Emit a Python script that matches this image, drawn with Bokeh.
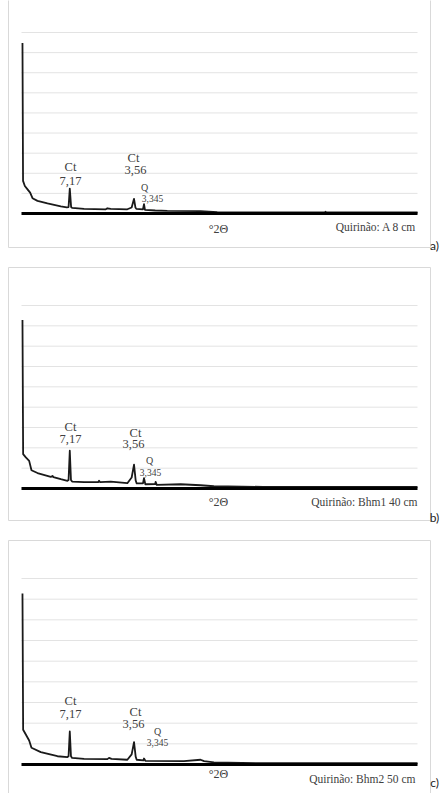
from bokeh.plotting import figure
from bokeh.layouts import column
from bokeh.embed import file_html
from bokeh.resources import INLINE
from bokeh.core.properties import value
from bokeh.models import Range1d

# ---------------- data (°2θ, relative intensity in gridline units) ----------------
X_MIN, X_MAX = 3, 80
GRID_LEVELS = [1, 2, 3, 4, 5, 6, 7, 8, 9]

theta_a = [3.19, 3.30, 3.65, 4.17, 4.68, 5.14, 6.11, 8.05, 10.64, 11.80, 12.15, 12.39,
           12.65, 12.84, 15.17, 19.40, 19.70, 20.35, 23.58, 24.42, 24.88, 25.15, 25.33,
           26.62, 26.82, 27.01, 29.0, 31.35, 37.82, 41.06, 50.0, 62.0, 62.1, 62.3, 80.0]
int_a = [8.48, 1.62, 1.37, 1.20, 1.04, 0.76, 0.63, 0.50, 0.35, 0.30, 0.32, 1.24,
         0.32, 0.28, 0.23, 0.21, 0.26, 0.23, 0.21, 0.30, 0.73, 0.30, 0.23,
         0.21, 0.46, 0.18, 0.15, 0.13, 0.12, 0.07, 0.05, 0.05, 0.09, 0.05, 0.05]

theta_b = [3.19, 3.32, 3.84, 4.49, 4.94, 6.11, 8.70, 9.02, 9.20, 10.64, 11.93, 12.15,
           12.39, 12.62, 12.84, 15.17, 17.90, 18.08, 18.30, 20.35, 23.58, 24.42, 24.88,
           25.20, 25.40, 26.62, 26.82, 27.08, 29.0, 29.08, 29.30, 33.94, 37.82, 40.41,
           50.0, 80.0]
int_b = [8.29, 1.69, 1.53, 1.36, 0.90, 0.76, 0.57, 0.62, 0.56, 0.46, 0.38, 0.42,
         1.86, 0.42, 0.34, 0.31, 0.31, 0.38, 0.31, 0.34, 0.26, 0.54, 1.17,
         0.40, 0.25, 0.25, 0.51, 0.21, 0.22, 0.33, 0.18, 0.21, 0.16, 0.11,
         0.08, 0.08]

theta_c = [3.19, 3.32, 3.84, 4.49, 4.94, 6.75, 9.99, 11.93, 12.15, 12.39, 12.62, 12.84,
           15.17, 19.70, 20.02, 20.50, 23.58, 24.42, 24.88, 25.20, 25.40, 26.69, 26.82,
           27.08, 34.59, 37.82, 38.50, 40.41, 50.0, 80.0]
int_c = [8.27, 1.68, 1.45, 1.16, 0.81, 0.60, 0.40, 0.36, 0.40, 1.60, 0.40, 0.32,
         0.27, 0.26, 0.32, 0.27, 0.23, 0.49, 1.08, 0.38, 0.23, 0.20, 0.29,
         0.18, 0.16, 0.23, 0.16, 0.10, 0.06, 0.06]

minerals = ["Ct", "Ct", "Q"]
d_spacings = ["7,17", "3,56", "3,345"]
x_title = "°2Θ"
samples = ["Quirinão: A 8 cm", "Quirinão: Bhm1 40 cm", "Quirinão: Bhm2 50 cm"]
letters = ["a)", "b)", "c)"]

# ---------------- layout (page pixels) ----------------
PLOT_LEFT, PLOT_RIGHT = 21, 417
PAGE_LEFT, PAGE_RIGHT = 0, 440
BORDER_LEFT, BORDER_RIGHT = 8, 430
LETTER_X = 434

PANELS = [
    dict(theta=theta_a, inten=int_a, fig_top=0, H=256, grid_top=32, axis=213,
         border_top=-6, border_bottom=247, letter_y=245, name_x=416, name_y=226, title_y=228,
         min_pos=[(70, 166), (133, 157), (144, 187)], d_pos=[(70, 180), (135, 169), (152, 198)]),
    dict(theta=theta_b, inten=int_b, fig_top=256, H=274, grid_top=305, axis=488,
         border_top=267, border_bottom=520, letter_y=517, name_x=417, name_y=501, title_y=501,
         min_pos=[(70, 426), (135, 432), (149, 460)], d_pos=[(70, 438), (133, 443), (150, 472)]),
    dict(theta=theta_c, inten=int_c, fig_top=530, H=263, grid_top=578, axis=764,
         border_top=540, border_bottom=797, letter_y=782, name_x=415, name_y=778, title_y=773,
         min_pos=[(70, 700), (135, 711), (157, 731)], d_pos=[(70, 713), (133, 723), (157, 742)]),
]

SERIF = value("Liberation Serif")
TEXT_COLOR = "#404040"


def make_panel(i, cfg):
    sx = (PLOT_RIGHT - PLOT_LEFT) / (X_MAX - X_MIN)
    sp = (cfg["axis"] - cfg["grid_top"]) / GRID_LEVELS[-1]

    def xd(px):
        return X_MIN + (px - PLOT_LEFT) / sx

    def yd(py):
        return (cfg["axis"] - py) / sp

    top, H = cfg["fig_top"], cfg["H"]
    p = figure(width=PAGE_RIGHT - PAGE_LEFT, height=H, output_backend="svg",
               toolbar_location=None, x_axis_location=None, y_axis_location=None,
               x_range=Range1d(xd(PAGE_LEFT), xd(PAGE_RIGHT)),
               y_range=Range1d(yd(top + H), yd(top)),
               min_border=0, min_border_left=0, min_border_right=0,
               min_border_top=0, min_border_bottom=0)
    p.outline_line_color = None
    p.xgrid.visible = False
    p.ygrid.visible = False
    p.background_fill_color = "white"
    p.border_fill_color = "white"

    # chart-area border
    p.quad(left=[xd(BORDER_LEFT)], right=[xd(BORDER_RIGHT)],
           top=[yd(cfg["border_top"])], bottom=[yd(cfg["border_bottom"])],
           fill_color=None, line_color="#d9d9d9", line_width=1)

    # horizontal gridlines
    p.segment(x0=[X_MIN] * len(GRID_LEVELS), x1=[X_MAX] * len(GRID_LEVELS),
              y0=GRID_LEVELS, y1=GRID_LEVELS, line_color="#e3e3e3", line_width=1)

    # diffractogram
    p.line(cfg["theta"], cfg["inten"], line_color="#1a1a1a", line_width=1.8,
           line_join="round")

    # x axis line
    p.line([X_MIN, X_MAX], [0, 0], line_color="black", line_width=3)

    # peak labels
    p.text(x=[xd(px) for px, _ in cfg["min_pos"][:2]],
           y=[yd(py) for _, py in cfg["min_pos"][:2]],
           text=minerals[:2], text_font=SERIF, text_font_size="12.5px",
           text_align="center", text_baseline="middle", text_color=TEXT_COLOR)
    p.text(x=[xd(px) for px, _ in cfg["d_pos"][:2]],
           y=[yd(py) for _, py in cfg["d_pos"][:2]],
           text=d_spacings[:2], text_font=SERIF, text_font_size="12.5px",
           text_align="center", text_baseline="middle", text_color=TEXT_COLOR)
    p.text(x=[xd(cfg["min_pos"][2][0])], y=[yd(cfg["min_pos"][2][1])],
           text=[minerals[2]], text_font=SERIF, text_font_size="10px",
           text_align="center", text_baseline="middle", text_color=TEXT_COLOR)
    p.text(x=[xd(cfg["d_pos"][2][0])], y=[yd(cfg["d_pos"][2][1])],
           text=[d_spacings[2]], text_font=SERIF, text_font_size="9.5px",
           text_align="center", text_baseline="middle", text_color=TEXT_COLOR)

    # axis title and sample name
    p.text(x=[xd(218)], y=[yd(cfg["title_y"])], text=[x_title], text_font=SERIF,
           text_font_size="12px", text_align="center", text_baseline="middle",
           text_color=TEXT_COLOR)
    p.text(x=[xd(cfg["name_x"])], y=[yd(cfg["name_y"])], text=[samples[i]],
           text_font=SERIF, text_font_size="11.5px", text_align="right",
           text_baseline="middle", text_color=TEXT_COLOR)

    # panel letter
    p.text(x=[xd(LETTER_X)], y=[yd(cfg["letter_y"])], text=[letters[i]],
           text_font=value("Lato"), text_font_size="12px", text_align="center",
           text_baseline="middle", text_color="#222222")
    return p


figs = [make_panel(i, cfg) for i, cfg in enumerate(PANELS)]
layout = column(*figs, spacing=0)

open("out.html", "w").write(file_html(layout, INLINE))
